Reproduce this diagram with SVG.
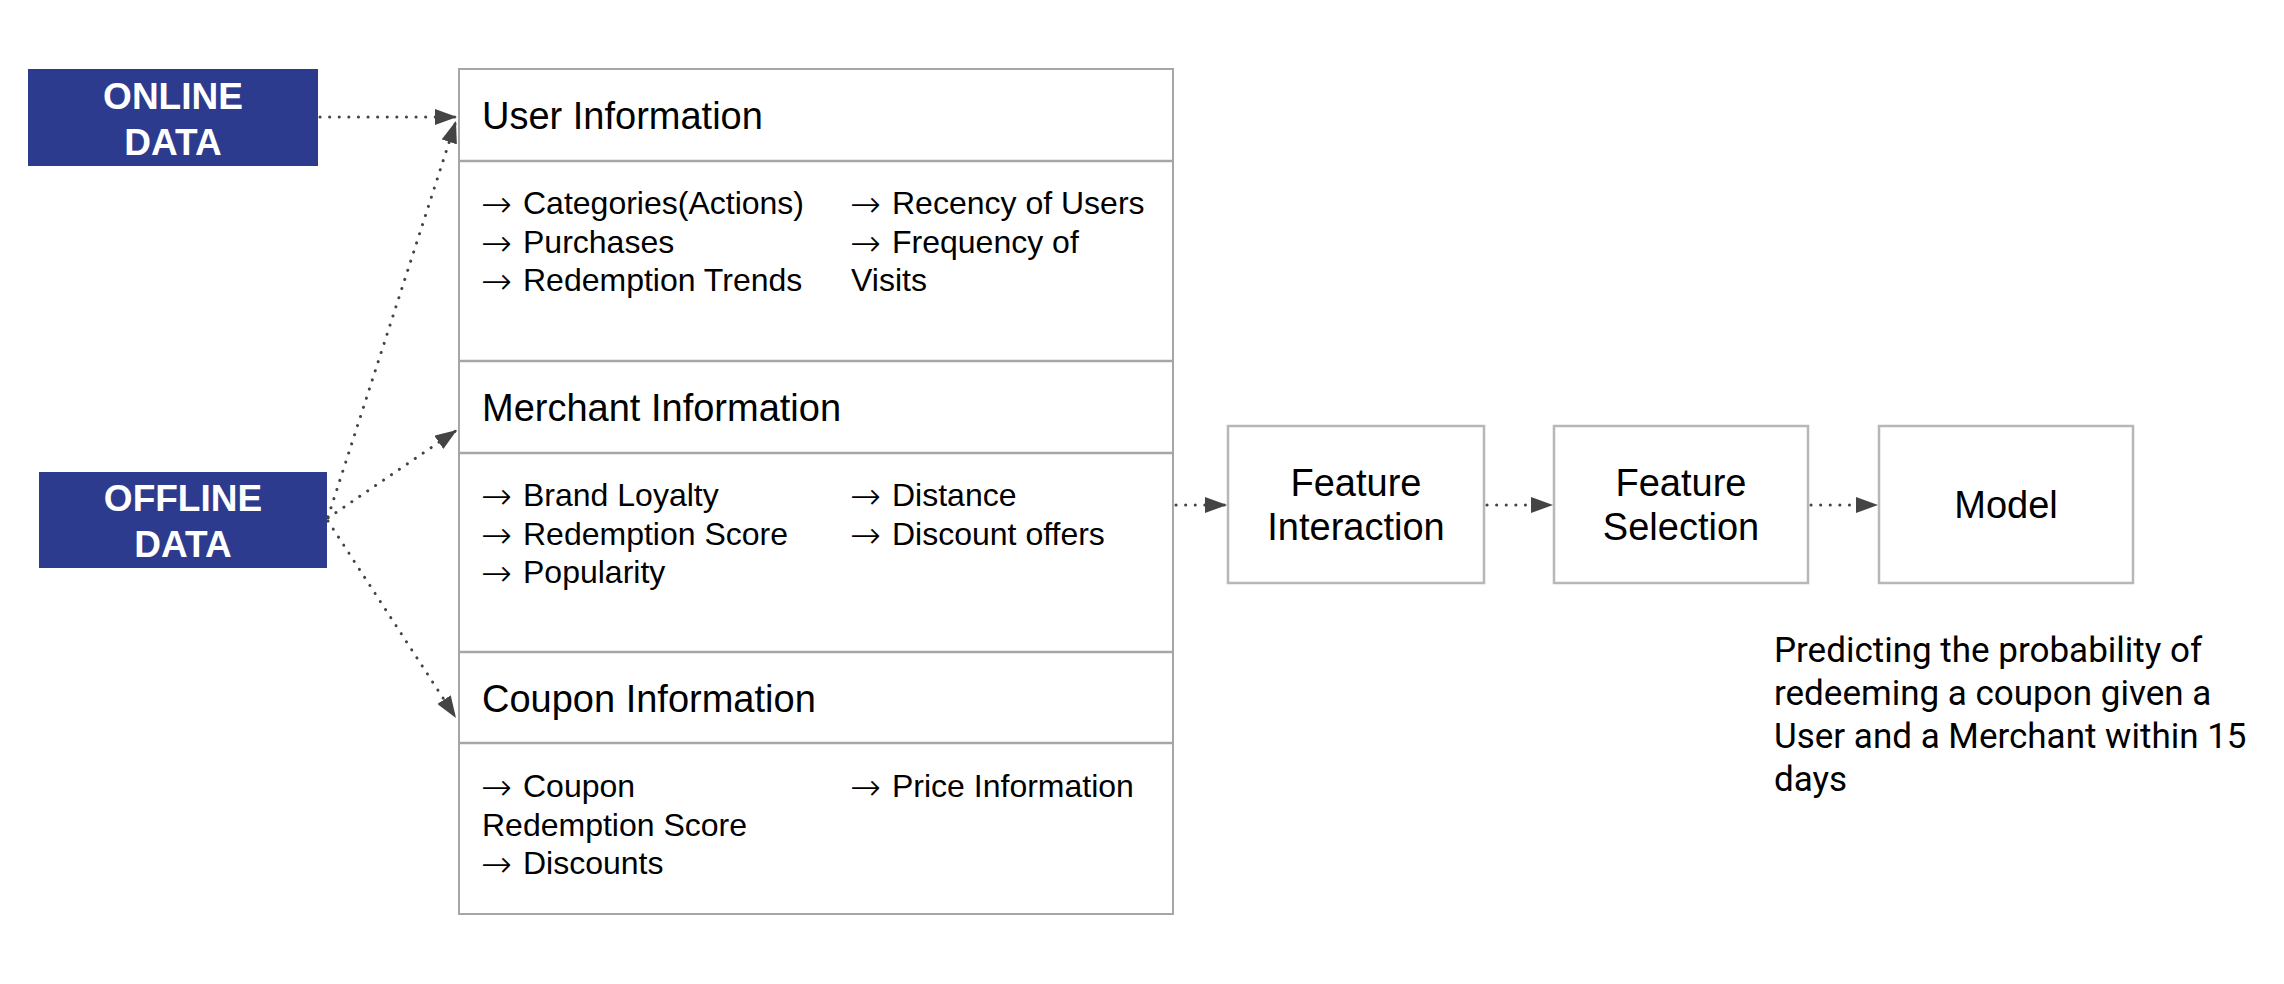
<svg xmlns="http://www.w3.org/2000/svg" width="2284" height="984" viewBox="0 0 2284 984">
  <style>
    .src { fill: #2d3b8e; }
    .srct { font-family: "Liberation Sans", Arial, sans-serif; font-weight: bold; font-size: 37px; fill: #ffffff; text-anchor: middle; }
    .frame { fill: #ffffff; stroke: #a6a6a6; stroke-width: 2; }
    .div { stroke: #a6a6a6; stroke-width: 2.5; }
    .step { fill: #ffffff; stroke: #b7b7b7; stroke-width: 2.5; }
    .head { font-family: "Liberation Sans", Arial, sans-serif; font-size: 38px; fill: #000000; }
    .body { font-family: "Liberation Sans", Arial, sans-serif; font-size: 32px; fill: #000000; }
    .ar { font-family: "DejaVu Sans ExtraLight", "DejaVu Sans", sans-serif; font-weight: 200; font-size: 37px; }
    .stept { font-family: "Liberation Sans", Arial, sans-serif; font-size: 38px; fill: #000000; text-anchor: middle; }
    .note { font-family: Roboto, "Liberation Sans", sans-serif; font-size: 35px; fill: #000000; }
    .conn { fill: none; stroke: #444444; stroke-width: 3; stroke-dasharray: 0.1 9.5; stroke-linecap: round; }
  </style>
  <defs>
    <marker id="arr" markerUnits="userSpaceOnUse" markerWidth="22" markerHeight="16" refX="22" refY="8" orient="auto">
      <path d="M0,0 L22,8 L0,16 z" fill="#444444"/>
    </marker>
  </defs>
  <rect width="2284" height="984" fill="#ffffff"/>

  <g id="online">
    <rect class="src" x="28" y="69" width="290" height="97"/>
    <text class="srct" x="173" y="109">ONLINE</text>
    <text class="srct" x="173" y="155">DATA</text>
  </g>

  <g id="offline">
    <rect class="src" x="39" y="472" width="288" height="96"/>
    <text class="srct" x="183" y="511">OFFLINE</text>
    <text class="srct" x="183" y="557">DATA</text>
  </g>

  <g id="info">
    <rect class="frame" x="459" y="69" width="714" height="845"/>
    <line class="div" x1="459" y1="161" x2="1173" y2="161"/>
    <line class="div" x1="459" y1="361" x2="1173" y2="361"/>
    <line class="div" x1="459" y1="453" x2="1173" y2="453"/>
    <line class="div" x1="459" y1="652" x2="1173" y2="652"/>
    <line class="div" x1="459" y1="743" x2="1173" y2="743"/>

    <g id="user-info">
      <text class="head" x="482" y="129">User Information</text>
      <text class="body" y="214"><tspan class="ar" x="481" dy="3">→</tspan><tspan x="523" dy="-3">Categories(Actions)</tspan></text>
      <text class="body" y="252.5"><tspan class="ar" x="481" dy="3">→</tspan><tspan x="523" dy="-3">Purchases</tspan></text>
      <text class="body" y="291"><tspan class="ar" x="481" dy="3">→</tspan><tspan x="523" dy="-3">Redemption Trends</tspan></text>
      <text class="body" y="214"><tspan class="ar" x="850" dy="3">→</tspan><tspan x="892" dy="-3">Recency of Users</tspan></text>
      <text class="body" y="252.5"><tspan class="ar" x="850" dy="3">→</tspan><tspan x="892" dy="-3">Frequency of</tspan></text>
      <text class="body" x="851" y="291">Visits</text>
    </g>

    <g id="merchant-info">
      <text class="head" x="482" y="421">Merchant Information</text>
      <text class="body" y="506"><tspan class="ar" x="481" dy="3">→</tspan><tspan x="523" dy="-3">Brand Loyalty</tspan></text>
      <text class="body" y="544.5"><tspan class="ar" x="481" dy="3">→</tspan><tspan x="523" dy="-3">Redemption Score</tspan></text>
      <text class="body" y="583"><tspan class="ar" x="481" dy="3">→</tspan><tspan x="523" dy="-3">Popularity</tspan></text>
      <text class="body" y="506"><tspan class="ar" x="850" dy="3">→</tspan><tspan x="892" dy="-3">Distance</tspan></text>
      <text class="body" y="544.5"><tspan class="ar" x="850" dy="3">→</tspan><tspan x="892" dy="-3">Discount offers</tspan></text>
    </g>

    <g id="coupon-info">
      <text class="head" x="482" y="712">Coupon Information</text>
      <text class="body" y="797"><tspan class="ar" x="481" dy="3">→</tspan><tspan x="523" dy="-3">Coupon</tspan></text>
      <text class="body" x="482" y="835.5">Redemption Score</text>
      <text class="body" y="874"><tspan class="ar" x="481" dy="3">→</tspan><tspan x="523" dy="-3">Discounts</tspan></text>
      <text class="body" y="797"><tspan class="ar" x="850" dy="3">→</tspan><tspan x="892" dy="-3">Price Information</tspan></text>
    </g>
  </g>

  <g id="feature-interaction">
    <rect class="step" x="1228" y="426" width="256" height="157"/>
    <text class="stept" x="1356" y="496">Feature</text>
    <text class="stept" x="1356" y="540">Interaction</text>
  </g>

  <g id="feature-selection">
    <rect class="step" x="1554" y="426" width="254" height="157"/>
    <text class="stept" x="1681" y="496">Feature</text>
    <text class="stept" x="1681" y="540">Selection</text>
  </g>

  <g id="model">
    <rect class="step" x="1879" y="426" width="254" height="157"/>
    <text class="stept" x="2006" y="518">Model</text>
  </g>

  <g id="note">
    <text class="note" x="1774" y="662">Predicting the probability of<tspan x="1774" dy="43">redeeming a coupon given a</tspan><tspan x="1774" dy="43">User and a Merchant within 15</tspan><tspan x="1774" dy="43">days</tspan></text>
  </g>

  <g id="connectors">
    <line class="conn" x1="320" y1="117" x2="457" y2="117" marker-end="url(#arr)"/>
    <line class="conn" x1="328" y1="517" x2="456" y2="121" marker-end="url(#arr)"/>
    <line class="conn" x1="328" y1="518" x2="457" y2="430" marker-end="url(#arr)"/>
    <line class="conn" x1="328" y1="521" x2="456" y2="718" marker-end="url(#arr)"/>
    <line class="conn" x1="1176" y1="505" x2="1227" y2="505" marker-end="url(#arr)"/>
    <line class="conn" x1="1487" y1="505" x2="1553" y2="505" marker-end="url(#arr)"/>
    <line class="conn" x1="1811" y1="505" x2="1878" y2="505" marker-end="url(#arr)"/>
  </g>
</svg>
